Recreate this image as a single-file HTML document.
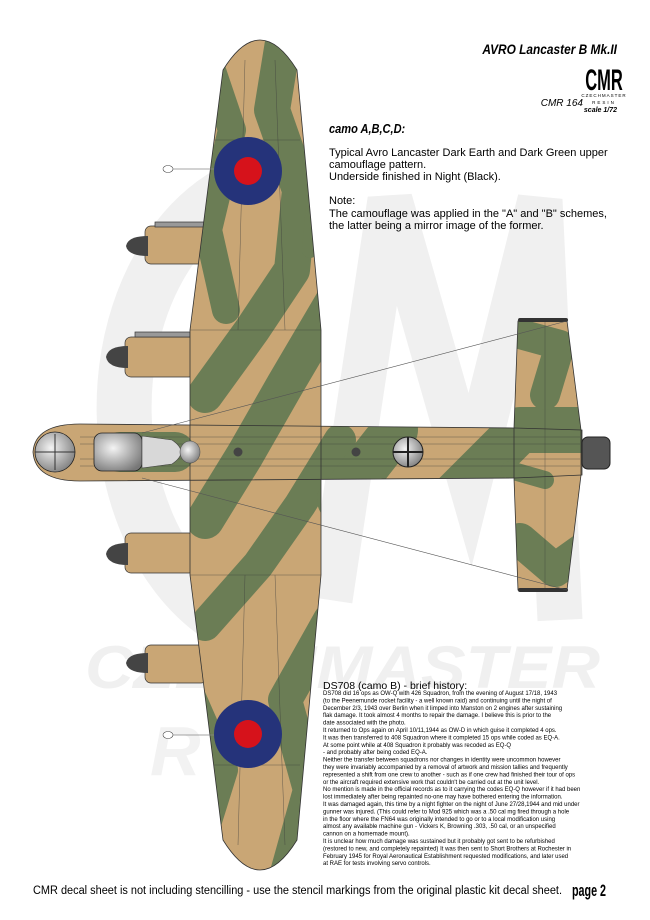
<!DOCTYPE html>
<html><head><meta charset="utf-8"><style>
html,body{margin:0;padding:0;background:#fff;}
svg{display:block;}
text{font-family:"Liberation Sans",sans-serif;}
</style></head><body>
<svg width="650" height="920" viewBox="0 0 650 920" xmlns="http://www.w3.org/2000/svg">
<defs>
<clipPath id="ac">
  <path d="M190,330 L223,70 Q260,10 297,70 L321,330 L321,575 L297,840 Q260,900 223,840 L190,575 Z"/>
  <path d="M33,452 Q35,424 80,424 L515,428 L582,430 L582,475 L515,478 L80,481 Q35,481 33,452 Z"/>
  <path d="M518,321 L567,321 L581,430 L581,475 L567,590 L518,590 L514,478 L514,428 Z"/>
</clipPath>
<radialGradient id="gl" cx="0.4" cy="0.4" r="0.7"><stop offset="0" stop-color="#f4f4f4"/><stop offset="1" stop-color="#777"/></radialGradient>
</defs>

<!-- watermark -->
<g fill="none" stroke="#f0f0f0">
  <path d="M292,175 A170,230 0 1 0 300,640" stroke-width="55"/>
  <path d="M330,600 L390,200 L470,480 L540,200 L560,620" stroke-width="45"/>
</g>
<text x="85" y="688" font-size="60" font-weight="bold" font-style="italic" fill="#f0f0f0" textLength="515" lengthAdjust="spacingAndGlyphs">CZECHMASTER</text>
<text x="150" y="775" font-size="70" font-weight="bold" font-style="italic" fill="#f2f2f2">R</text>

<!-- nacelles -->
<g stroke="#333" stroke-width="0.7">
  <rect x="145" y="226" width="62" height="38" rx="6" fill="#c9a675"/>
  <rect x="125" y="337" width="70" height="40" rx="6" fill="#c9a675"/>
  <rect x="125" y="533" width="70" height="40" rx="6" fill="#c9a675"/>
  <rect x="145" y="645" width="62" height="38" rx="6" fill="#c9a675"/>
  <rect x="155" y="222" width="50" height="5" fill="#999"/>
  <rect x="135" y="332" width="55" height="5" fill="#999"/>
</g>
<g fill="#444">
  <path d="M148,236 Q128,236 126,246 Q128,256 148,256 Z"/>
  <path d="M128,346 Q108,346 106,357 Q108,368 128,368 Z"/>
  <path d="M128,543 Q108,543 106,554 Q108,565 128,565 Z"/>
  <path d="M148,653 Q128,653 126,663 Q128,673 148,673 Z"/>
</g>

<!-- airframe -->
<g clip-path="url(#ac)">
  <rect x="0" y="0" width="650" height="920" fill="#c9a675"/>
  <g fill="none" stroke="#6b7d55" stroke-linecap="round" stroke-linejoin="round">
    <path d="M205,50 L232,130 L208,230 L226,310" stroke-width="28"/>
    <path d="M285,30 L272,110 L300,190 L292,270 L252,330 L205,395" stroke-width="36"/>
    <path d="M335,300 L285,385 L245,455 L205,520" stroke-width="38"/>
    <path d="M340,440 L300,505 L258,565 L205,625" stroke-width="32"/>
    <path d="M330,620 L285,700 L310,790 L285,880" stroke-width="34"/>
    <path d="M190,690 L225,770 L200,850" stroke-width="26"/>
    <path d="M310,250 L320,140" stroke-width="16"/>
    <path d="M120,452 L175,452" stroke-width="40"/>
    <path d="M340,500 L395,430" stroke-width="46"/>
    <path d="M450,500 L520,430 L600,430" stroke-width="46"/>
    <path d="M505,330 L560,345 L545,395" stroke-width="30"/>
    <path d="M520,540 L555,570 L590,545" stroke-width="34"/>
    <path d="M510,470 L545,480" stroke-width="18"/>
  </g>
  <g stroke="#3c3c3c" stroke-width="0.5" fill="none" opacity="0.7">
    <path d="M245,60 L238,330 M275,60 L285,330 M245,575 L238,845 M275,575 L285,845"/>
    <path d="M190,330 L321,330 M190,575 L321,575 M205,140 L300,140 M205,765 L300,765"/>
    <path d="M80,437 L580,437 M80,444 L580,444 M80,459 L580,459 M80,466 L580,466"/>
    <path d="M545,321 L545,590"/>
  </g>
</g>
<g fill="none" stroke="#333" stroke-width="0.8">
  <path d="M190,330 L223,70 Q260,10 297,70 L321,330 L321,575 L297,840 Q260,900 223,840 L190,575 Z"/>
  <path d="M518,321 L567,321 L581,430 L581,475 L567,590 L518,590 L514,478 L514,428 Z"/>
  <path d="M33,452 Q35,424 80,424 L515,428 L582,430 L582,475 L515,478 L80,481 Q35,481 33,452 Z"/>
</g>
<rect x="518" y="318" width="50" height="4" rx="2" fill="#333"/>
<rect x="518" y="588" width="50" height="4" rx="2" fill="#333"/>

<!-- nose, canopy, turrets -->
<ellipse cx="55" cy="452" rx="20" ry="20" fill="url(#gl)" stroke="#222" stroke-width="0.8"/>
<path d="M35,452 L75,452 M55,434 L55,470" stroke="#333" stroke-width="1"/>
<rect x="94" y="433" width="48" height="38" rx="8" fill="url(#gl)" stroke="#222" stroke-width="0.8"/>
<path d="M142,436 L172,440 Q190,452 172,464 L142,468 Z" fill="#d8d8d8" stroke="#444" stroke-width="0.6"/>
<ellipse cx="190" cy="452" rx="10" ry="11" fill="url(#gl)" stroke="#555" stroke-width="0.6"/>
<circle cx="238" cy="452" r="4.5" fill="#444"/>
<circle cx="356" cy="452" r="4.5" fill="#444"/>
<circle cx="408" cy="452" r="15" fill="url(#gl)" stroke="#222" stroke-width="1"/>
<path d="M393,452 L423,452 M408,437 L408,467" stroke="#222" stroke-width="2"/>
<rect x="582" y="437" width="28" height="32" rx="6" fill="#555" stroke="#222"/>

<!-- bracing lines -->
<path d="M142,433 L567,321 M142,478 L567,590" stroke="#555" stroke-width="0.6"/>

<!-- roundels -->
<circle cx="248" cy="171" r="34" fill="#25337a"/><circle cx="248" cy="171" r="14" fill="#d6121b"/>
<circle cx="248" cy="734" r="34" fill="#25337a"/><circle cx="248" cy="734" r="14" fill="#d6121b"/>
<path d="M173,169 L214,169 M173,735 L214,735" stroke="#888" stroke-width="0.7"/>
<ellipse cx="168" cy="169" rx="5" ry="3.5" fill="#fff" stroke="#444" stroke-width="0.6"/>
<ellipse cx="168" cy="735" rx="5" ry="3.5" fill="#fff" stroke="#444" stroke-width="0.6"/>

<!-- header -->
<text x="617" y="54" text-anchor="end" font-size="14" font-weight="bold" font-style="italic" transform="translate(617 0) scale(0.85 1) translate(-617 0)">AVRO Lancaster B Mk.II</text>
<text x="604" y="90" text-anchor="middle" font-size="30" font-weight="bold" transform="translate(604 0) scale(0.55 1) translate(-604 0)">CMR</text>
<text x="604" y="97" text-anchor="middle" font-size="4.5" letter-spacing="1">CZECHMASTER</text>
<text x="583" y="106" text-anchor="end" font-size="10" font-style="italic">CMR 164</text>
<text x="604" y="104" text-anchor="middle" font-size="4.5" letter-spacing="2">RESIN</text>
<text x="617" y="112" text-anchor="end" font-size="7" font-weight="bold" font-style="italic">scale 1/72</text>

<text x="329" y="133" font-size="13" font-weight="bold" font-style="italic" transform="translate(329 0) scale(0.85 1) translate(-329 0)">camo A,B,C,D:</text>
<g font-size="11">
<text x="329" y="156">Typical Avro Lancaster Dark Earth and Dark Green upper</text>
<text x="329" y="168">camouflage pattern.</text>
<text x="329" y="180">Underside finished in Night (Black).</text>
<text x="329" y="204">Note:</text>
<text x="329" y="217">The camouflage was applied in the "A" and "B" schemes,</text>
<text x="329" y="229">the latter being a mirror image of the former.</text>
</g>

<!-- history -->
<text x="323" y="689" font-size="10.5">DS708 (camo B) -  brief history:</text>
<g font-size="6">
<text x="323" y="695">DS708 did 16 ops as OW-Q with 426 Squadron, from the evening of August 17/18, 1943</text>
<text x="323" y="702.4">(to the Peenemunde rocket facility - a well known raid) and continuing until the night of</text>
<text x="323" y="709.8">December 2/3, 1943 over Berlin when it limped into Manston on 2 engines after sustaining</text>
<text x="323" y="717.2">flak damage. It took almost 4 months to repair the damage. I believe this is prior to the</text>
<text x="323" y="724.6">date associated with the photo.</text>
<text x="323" y="732">It returned to Ops again on April 10/11,1944 as OW-D in which guise it  completed 4 ops.</text>
<text x="323" y="739.4">It was then transferred to 408 Squadron where it completed 15 ops while coded as EQ-A.</text>
<text x="323" y="746.8">At some point while at 408 Squadron it probably was recoded as EQ-Q</text>
<text x="323" y="754.2">- and probably after being coded EQ-A.</text>
<text x="323" y="761.6">Neither the transfer between squadrons nor changes in identity were uncommon however</text>
<text x="323" y="769">they were invariably accompanied by a removal of artwork and mission tallies and frequently</text>
<text x="323" y="776.4">represented a shift from one crew to another - such as if one crew had finished their tour of ops</text>
<text x="323" y="783.8">or the aircraft required extensive work that couldn't be carried out at the unit level.</text>
<text x="323" y="791.2">No mention is made in the official records as to it carrying the codes EQ-Q however if it had been</text>
<text x="323" y="798.6">lost immediately after being repainted no-one may have bothered entering the information.</text>
<text x="323" y="806">It was damaged again, this time by a night fighter on the night of June 27/28,1944 and mid under</text>
<text x="323" y="813.4">gunner was injured. (This could refer to Mod 925 which was a .50 cal mg fired through a hole</text>
<text x="323" y="820.8">in the floor where the FN64 was originally intended to go or to a local modification using</text>
<text x="323" y="828.2">almost any available machine gun - Vickers K, Browning .303, .50 cal, or an unspecified</text>
<text x="323" y="835.6">cannon on a homemade mount).</text>
<text x="323" y="843">It is unclear how much damage was sustained but it probably got sent to be refurbished</text>
<text x="323" y="850.4">(restored to new, and completely repainted) It was then sent to Short Brothers at Rochester in</text>
<text x="323" y="857.8">February 1945 for Royal Aeronautical Establishment requested modifications, and later used</text>
<text x="323" y="865.2">at RAE for tests involving servo controls.</text>
</g>

<!-- footer -->
<text x="33" y="894" font-size="11.5" textLength="529" lengthAdjust="spacingAndGlyphs">CMR decal sheet is not including stencilling - use the stencil markings from the original plastic kit decal sheet.</text>
<text x="572" y="896" font-size="17" font-weight="bold" textLength="34" lengthAdjust="spacingAndGlyphs">page 2</text>
</svg>
</body></html>
